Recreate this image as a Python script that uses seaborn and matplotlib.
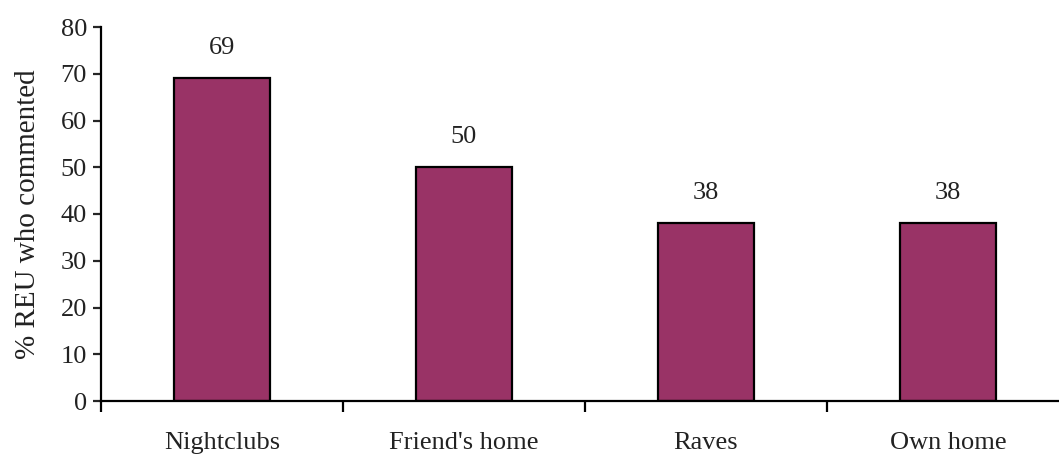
import matplotlib
matplotlib.use('Agg')
import matplotlib.pyplot as plt
import seaborn as sns
import pandas as pd
from matplotlib.ticker import FixedLocator

# data
places = ['Nightclubs', "Friend's home", 'Raves', 'Own home']
pct = [69, 50, 38, 38]

df = pd.DataFrame({'place': places, 'pct': pct})

sns.set_style('ticks')
plt.rcParams['font.family'] = ['Liberation Serif', 'DejaVu Serif']

fig = plt.figure(figsize=(10.59, 4.54), dpi=100)
ax = fig.add_axes([101 / 1059, 1 - 401 / 454, 968 / 1059, 374 / 454])

sns.barplot(data=df, x='place', y='pct', color='#993366', saturation=1,
            edgecolor='black', linewidth=1.6, width=0.4, ax=ax)

ax.bar_label(ax.containers[0], padding=14, fontsize=19, color='#222222')

ax.set_ylim(0, 80)
ax.set_xlim(-0.5, len(places) - 0.5)
ax.set_yticks(range(0, 81, 10))
ax.set_xlabel('')
ax.set_ylabel('% REU who commented', fontsize=21, color='#222222', labelpad=14)

# ticks between categories, labels under the bars
ax.xaxis.set_minor_locator(FixedLocator([i - 0.5 for i in range(len(places) + 1)]))
ax.tick_params(axis='x', which='major', length=0, pad=22, labelsize=19, labelcolor='#222222')
ax.tick_params(axis='x', which='minor', length=8, width=1.6, color='black')
ax.tick_params(axis='y', length=6, width=1.6, labelsize=19, labelcolor='#222222', pad=4)

sns.despine(ax=ax, top=True, right=True)
for s in ['left', 'bottom']:
    ax.spines[s].set_linewidth(1.6)
    ax.spines[s].set_color('black')

fig.savefig('out.png', dpi=100)
